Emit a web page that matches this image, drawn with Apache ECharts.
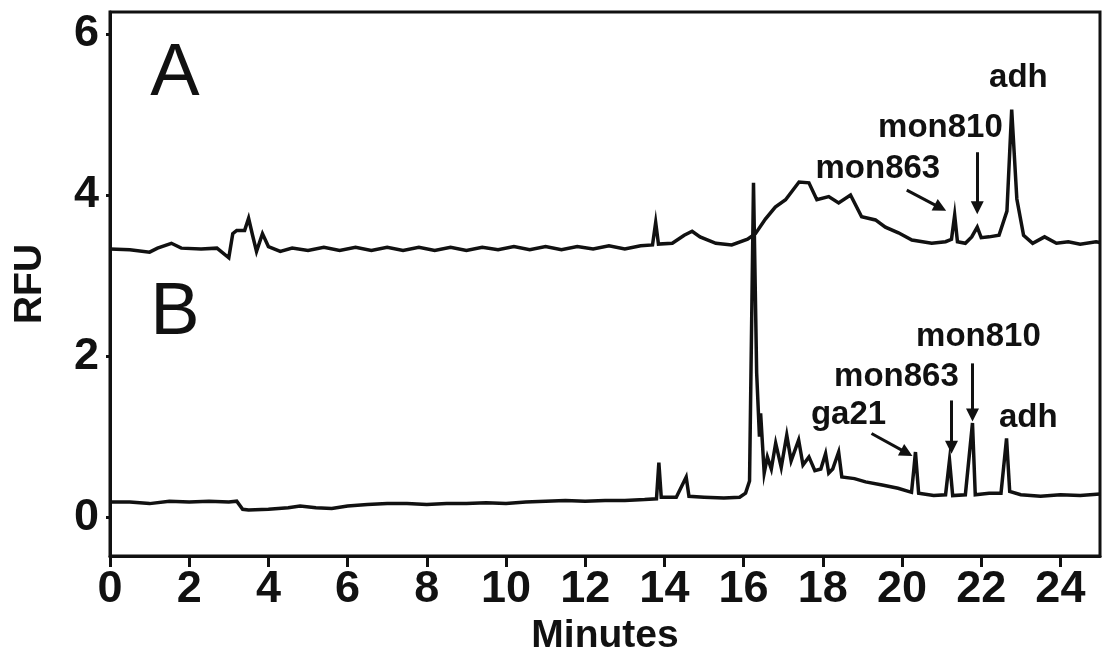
<!DOCTYPE html>
<html>
<head>
<meta charset="utf-8">
<script src="https://cdn.jsdelivr.net/npm/echarts@6/dist/echarts.min.js"></script>
<style>
  html, body { margin: 0; padding: 0; background: #fff; }
  #chart { width: 1104px; height: 661px; }
</style>
</head>
<body>
<div id="chart"></div>
<script>
// Electropherogram traces: retention time (minutes) and fluorescence (RFU)
const timesA = [0, 0.5, 1.0, 1.2, 1.55, 1.8, 2.3, 2.7, 3.0, 3.1, 3.2, 3.4, 3.5, 3.6, 3.7, 3.85, 4.0, 4.3, 4.6, 5.0,
  5.4, 5.8, 6.2, 6.6, 7.0, 7.4, 7.8, 8.2, 8.6, 9.0, 9.4, 9.8, 10.2, 10.6, 11.0, 11.4, 11.8, 12.2, 12.6, 13.0,
  13.4, 13.7, 13.78, 13.85, 14.2, 14.5, 14.7, 14.9, 15.3, 15.7, 16.1, 16.3, 16.55, 16.8, 17.06, 17.4, 17.65, 17.85,
  18.15, 18.4, 18.7, 18.98, 19.33, 19.58, 19.91, 20.25, 20.75, 21.1, 21.25, 21.33, 21.4, 21.6, 21.76, 21.9, 22.0,
  22.2, 22.45, 22.65, 22.77, 22.9, 23.07, 23.3, 23.6, 23.9, 24.2, 24.5, 24.9, 25];
const rfuA = [3.33, 3.32, 3.29, 3.34, 3.40, 3.34, 3.33, 3.34, 3.22, 3.52, 3.56, 3.56, 3.71, 3.50, 3.30, 3.52, 3.36, 3.30, 3.34, 3.31,
  3.35, 3.31, 3.35, 3.31, 3.35, 3.31, 3.35, 3.31, 3.35, 3.31, 3.35, 3.32, 3.36, 3.32, 3.36, 3.32, 3.36, 3.33, 3.37, 3.33,
  3.37, 3.38, 3.66, 3.39, 3.40, 3.50, 3.55, 3.48, 3.40, 3.38, 3.45, 3.52, 3.70, 3.85, 3.94, 4.16, 4.15, 3.94,
  3.98, 3.90, 4.00, 3.73, 3.69, 3.60, 3.53, 3.44, 3.40, 3.42, 3.45, 3.75, 3.42, 3.40, 3.48, 3.60, 3.47,
  3.48, 3.50, 3.80, 5.06, 3.95, 3.50, 3.40, 3.48, 3.40, 3.42, 3.39, 3.42, 3.41];

const timesB = [0, 0.5, 1.0, 1.5, 2.0, 2.5, 3.0, 3.2, 3.35, 3.5, 4.0, 4.5, 4.8, 5.2, 5.6, 6.0, 6.5, 7.0, 7.5, 8.0,
  8.5, 9.0, 9.5, 10.0, 10.5, 11.0, 11.5, 12.0, 12.5, 13.0, 13.5, 13.8, 13.86, 13.92, 14.3, 14.55, 14.62, 15.0, 15.5,
  15.9, 16.05, 16.15, 16.25, 16.33, 16.4, 16.43, 16.52, 16.6, 16.7, 16.81, 16.95, 17.09, 17.2, 17.39, 17.5, 17.65,
  17.8, 17.95, 18.07, 18.15, 18.25, 18.4, 18.48, 18.8, 19.08, 19.5, 19.9, 20.24, 20.3, 20.34, 20.42, 20.8, 21.1,
  21.2, 21.28, 21.6, 21.78, 21.85, 22.2, 22.5, 22.64, 22.72, 23.0, 23.5, 24.0, 24.5, 25];
const rfuB = [0.19, 0.19, 0.17, 0.20, 0.19, 0.20, 0.19, 0.20, 0.10, 0.09, 0.10, 0.12, 0.14, 0.12, 0.11, 0.14, 0.16, 0.17, 0.17, 0.16,
  0.17, 0.17, 0.18, 0.17, 0.19, 0.20, 0.21, 0.20, 0.21, 0.21, 0.22, 0.23, 0.68, 0.25, 0.25, 0.50, 0.26, 0.25, 0.24,
  0.25, 0.30, 0.45, 4.15, 1.79, 1.00, 1.29, 0.55, 0.75, 0.60, 0.92, 0.62, 1.02, 0.70, 0.96, 0.65, 0.75,
  0.58, 0.60, 0.79, 0.55, 0.60, 0.81, 0.50, 0.48, 0.44, 0.40, 0.36, 0.31, 0.60, 0.81, 0.30, 0.27, 0.28,
  0.71, 0.27, 0.28, 1.17, 0.28, 0.30, 0.30, 0.98, 0.32, 0.28, 0.26, 0.28, 0.27, 0.29];

const xTicks = [0, 2, 4, 6, 8, 10, 12, 14, 16, 18, 20, 22, 24];
const yTicks = [0, 2, 4, 6];

// Peak annotations: [minutes, RFU, text]
const peakLabels = [
  [22.94, 5.45, 'adh'],
  [20.97, 4.83, 'mon810'],
  [19.39, 4.32, 'mon863'],
  [21.93, 2.24, 'mon810'],
  [19.86, 1.74, 'mon863'],
  [18.65, 1.27, 'ga21'],
  [23.19, 1.23, 'adh']
];
const panelLabels = [
  [1.64, 5.49, 'A'],
  [1.64, 2.53, 'B']
];
// Arrows pointing at peaks: [fromX, fromY, toX, toY]
const arrows = [
  [20.12, 4.06, 20.97, 3.84],
  [21.90, 4.53, 21.90, 3.84],
  [19.23, 1.04, 20.12, 0.80],
  [21.25, 1.45, 21.25, 0.87],
  [21.78, 1.91, 21.78, 1.27]
];

const zip = (xs, ys) => xs.map((x, i) => [x, ys[i]]);
const FONT = 'Liberation Sans, Arial, sans-serif';
const INK = '#111';

const chart = echarts.init(document.getElementById('chart'), null, { renderer: 'canvas' });

const traceStyle = { color: INK, width: 3.5, join: 'miter', opacity: 1 };

const textSeries = (name, data, size, weight) => ({
  name, type: 'scatter', symbolSize: 0, silent: true, data,
  itemStyle: { opacity: 1 },
  label: {
    show: true, position: 'inside', formatter: p => p.data[2], opacity: 1,
    fontFamily: FONT, fontWeight: weight, fontSize: size, color: INK
  },
  z: 5
});

chart.setOption({
  animation: false,
  backgroundColor: '#fff',
  grid: {
    left: 110, right: 4, top: 12, bottom: 105,
    containLabel: false, outerBoundsMode: 'none',
    show: true, borderColor: INK, borderWidth: 3, backgroundColor: 'transparent'
  },
  xAxis: {
    type: 'value', min: 0, max: 25,
    name: 'Minutes', nameLocation: 'middle', nameGap: 59,
    nameTextStyle: { fontFamily: FONT, fontWeight: 'bold', fontSize: 39, color: INK },
    axisLine: { show: true, onZero: false, lineStyle: { color: INK, width: 3 } },
    axisTick: { show: true, length: 11, lineStyle: { color: INK, width: 3 }, customValues: xTicks },
    axisLabel: { fontFamily: FONT, fontWeight: 'bold', fontSize: 45, color: INK, margin: 11, customValues: xTicks },
    splitLine: { show: false }
  },
  yAxis: {
    type: 'value', min: -0.48, max: 6.27,
    name: 'RFU', nameLocation: 'middle', nameGap: 60, nameRotate: 90,
    nameTextStyle: { fontFamily: FONT, fontWeight: 'bold', fontSize: 39, color: INK },
    axisLine: { show: true, onZero: false, lineStyle: { color: INK, width: 3 } },
    axisTick: { show: true, length: 4, lineStyle: { color: INK, width: 3 }, customValues: yTicks },
    axisLabel: {
      fontFamily: FONT, fontWeight: 'bold', fontSize: 45, color: INK, margin: 11,
      padding: [0, 0, 14, 0], customValues: yTicks
    },
    splitLine: { show: false }
  },
  series: [
    {
      name: 'A', type: 'line', data: zip(timesA, rfuA),
      showSymbol: false, symbol: 'none', lineStyle: traceStyle, z: 3
    },
    {
      name: 'B', type: 'line', data: zip(timesB, rfuB),
      showSymbol: false, symbol: 'none', lineStyle: traceStyle, z: 3,
      markLine: {
        silent: true, animation: false,
        symbol: ['none', 'triangle'], symbolSize: 13,
        itemStyle: { color: INK, opacity: 1 },
        lineStyle: { color: INK, width: 3, type: 'solid', opacity: 1 },
        label: { show: false },
        emphasis: { disabled: true },
        data: arrows.map(a => [{ coord: [a[0], a[1]] }, { coord: [a[2], a[3]] }])
      }
    },
    textSeries('peaks', peakLabels, 33, 'bold'),
    textSeries('panels', panelLabels, 74, 'normal')
  ]
});
</script>
</body>
</html>
